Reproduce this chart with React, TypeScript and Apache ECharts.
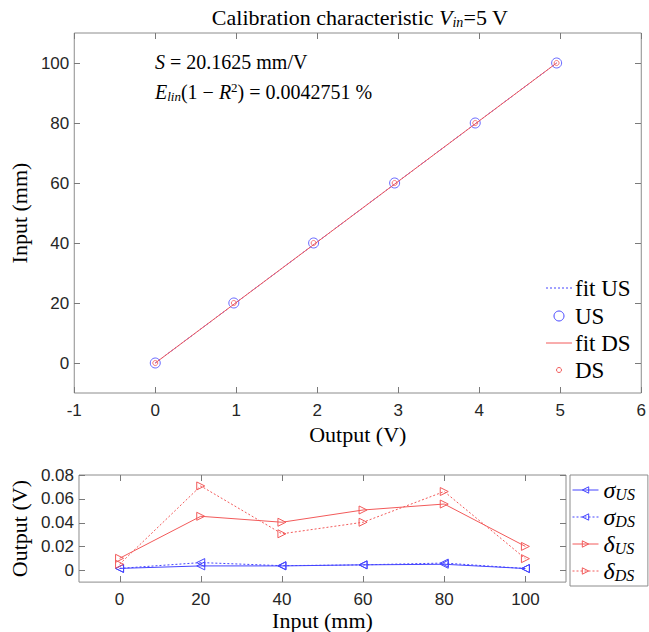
import React, { useEffect, useRef } from 'react';
import * as echarts from 'echarts';

// ---------- data ----------
const inputs = [0, 20, 40, 60, 80, 100];
const outputUS = [0, 0.97, 1.955, 2.955, 3.95, 4.955];
const outputDS = [0, 0.97, 1.955, 2.955, 3.95, 4.955];
const fitUSX = [0, 4.955];
const fitUSY = [0, 100];
const fitDSX = [0, 4.955];
const fitDSY = [0, 100];

const topXTicks = [-1, 0, 1, 2, 3, 4, 5, 6];
const topYTicks = [0, 20, 40, 60, 80, 100];
const botXTicks = [0, 20, 40, 60, 80, 100];
const botYTicks = [0, 0.02, 0.04, 0.06, 0.08];

const sigmaUS = [0.0015, 0.0036, 0.0036, 0.0045, 0.005, 0.0014];
const sigmaDS = [0.0015, 0.0064, 0.0038, 0.0045, 0.006, 0.0014];
const deltaUS = [0.01, 0.0453, 0.0403, 0.0506, 0.0556, 0.02];
const deltaDS = [0.005, 0.0708, 0.0306, 0.0403, 0.0661, 0.0097];

const seriesNames = ['sUS', 'sDS', 'dUS', 'dDS'];

// ---------- styles ----------
const BLUE = '#4444ff';
const RED = '#f25a5a';
const AXIS = '#8c8c8c';
const TICK = '#7a7a7a';
const LABEL = '#262626';
const SERIF = "'Liberation Serif', 'DejaVu Serif', serif";
const SANS = "'Liberation Sans', Arial, sans-serif";
const TICK_LEN = 6;

const pairs = (xs: number[], ys: number[]) => xs.map((x, i) => [x, ys[i]]);
const crisp = (v: number) => Math.round(v) + 0.5;

const AXIS_RANGES = [
  { x: [-1, 6], y: [-10, 110], xt: topXTicks, yt: topYTicks },
  { x: [-10, 110], y: [-0.01, 0.08], xt: botXTicks, yt: botYTicks },
];

function axisDef(gridIndex: number, min: number, max: number, ticks: number[], dir: 'x' | 'y', name: string, nameGap: number) {
  return {
    type: 'value',
    gridIndex,
    min,
    max,
    position: dir === 'x' ? 'bottom' : 'left',
    name,
    nameLocation: 'middle',
    nameGap,
    nameRotate: dir === 'y' ? 90 : 0,
    nameTextStyle: { fontFamily: SERIF, fontSize: 22, color: '#000' },
    axisLine: { show: false, onZero: false },
    splitLine: { show: false },
    axisTick: { show: false },
    axisLabel: {
      show: true,
      customValues: ticks,
      fontFamily: SANS,
      fontSize: 17,
      color: LABEL,
      margin: dir === 'x' ? 9 : 5,
      formatter: (v: number) => String(Math.round(v * 1000) / 1000),
    },
  };
}

export default function App() {
  const ref = useRef<HTMLDivElement>(null);

  useEffect(() => {
    if (!ref.current) return;
    const chart = echarts.init(ref.current, undefined, { renderer: 'svg' });

    const x0 = axisDef(0, -1, 6, topXTicks, 'x', 'Output (V)', 29);
    const y0 = axisDef(0, -10, 110, topYTicks, 'y', 'Input (mm)', 40);
    const x1 = axisDef(1, -10, 110, botXTicks, 'x', 'Input (mm)', 26);
    const y1 = axisDef(1, -0.01, 0.08, botYTicks, 'y', 'Output (V)', 40);

    const sub = { fontFamily: SERIF, fontStyle: 'italic', fontSize: 14, verticalAlign: 'bottom', lineHeight: 14 };

    const legendRich: any = {
      g: { fontFamily: SERIF, fontStyle: 'italic', fontSize: 24, lineHeight: 24, color: '#000' },
      s: { fontFamily: SERIF, fontStyle: 'italic', fontSize: 16, lineHeight: 15, verticalAlign: 'bottom', color: '#000' },
    };
    const legendText: Record<string, string> = {
      sUS: '{g|σ}{s|US}',
      sDS: '{g|σ}{s|DS}',
      dUS: '{g|δ}{s|US}',
      dDS: '{g|δ}{s|DS}',
    };
    const seriesColor: Record<string, string> = { sUS: BLUE, sDS: BLUE, dUS: RED, dDS: RED };
    const seriesDashed: Record<string, boolean> = { sUS: false, sDS: true, dUS: false, dDS: true };

    const botSeries = (name: string, ys: number[], rot: number) => ({
      name,
      type: 'line',
      xAxisIndex: 1,
      yAxisIndex: 1,
      data: pairs(inputs, ys),
      symbol: 'triangle',
      symbolSize: 8,
      symbolRotate: rot,
      showSymbol: true,
      lineStyle: { color: seriesColor[name], width: 1, type: seriesDashed[name] ? [2, 2] : 'solid' },
      itemStyle: { color: 'rgba(255,255,255,0)', borderColor: seriesColor[name], borderWidth: 1 },
      emphasis: { disabled: true },
      z: 3,
    });

    const graphicEls: any[] = [
      {
        type: 'text', x: 360, y: 17,
        style: {
          text: 'Calibration characteristic {i|V}{s|in}=5 V',
          fontFamily: SERIF, fontSize: 22, fill: '#000', align: 'center', verticalAlign: 'middle',
          lineHeight: 24,
          rich: {
            i: { fontFamily: SERIF, fontStyle: 'italic', fontSize: 22, lineHeight: 24 },
            s: { ...sub, fontSize: 14, lineHeight: 14 },
          },
        },
      },
      {
        type: 'text', x: 155, y: 62,
        style: {
          text: '{i|S} = 20.1625 mm/V',
          fontFamily: SERIF, fontSize: 20, fill: '#000', align: 'left', verticalAlign: 'middle', lineHeight: 22,
          rich: { i: { fontFamily: SERIF, fontStyle: 'italic', fontSize: 20, lineHeight: 22 } },
        },
      },
      {
        type: 'text', x: 155, y: 92,
        style: {
          text: '{i|E}{s|lin}(1 − {i|R}{p|2}) = 0.0042751 %',
          fontFamily: SERIF, fontSize: 20, fill: '#000', align: 'left', verticalAlign: 'middle', lineHeight: 22,
          rich: {
            i: { fontFamily: SERIF, fontStyle: 'italic', fontSize: 20, lineHeight: 22 },
            s: { ...sub, fontSize: 13, lineHeight: 13 },
            p: { fontFamily: SERIF, fontSize: 13, lineHeight: 13, verticalAlign: 'top' },
          },
        },
      },
      // top legend (no box)
      { type: 'line', shape: { x1: 546, y1: 288, x2: 572, y2: 288 }, style: { stroke: BLUE, lineWidth: 1, lineDash: [2, 2] } },
      { type: 'circle', shape: { cx: 559, cy: 316, r: 5 }, style: { stroke: BLUE, fill: 'none', lineWidth: 1 } },
      { type: 'line', shape: { x1: 546, y1: 343, x2: 572, y2: 343 }, style: { stroke: RED, lineWidth: 1 } },
      { type: 'circle', shape: { cx: 559, cy: 370, r: 2.5 }, style: { stroke: RED, fill: 'none', lineWidth: 1 } },
      { type: 'text', x: 575, y: 288, style: { text: 'fit US', fontFamily: SERIF, fontSize: 23, fill: '#000', verticalAlign: 'middle' } },
      { type: 'text', x: 575, y: 316, style: { text: 'US', fontFamily: SERIF, fontSize: 23, fill: '#000', verticalAlign: 'middle' } },
      { type: 'text', x: 575, y: 343, style: { text: 'fit DS', fontFamily: SERIF, fontSize: 23, fill: '#000', verticalAlign: 'middle' } },
      { type: 'text', x: 575, y: 370, style: { text: 'DS', fontFamily: SERIF, fontSize: 23, fill: '#000', verticalAlign: 'middle' } },
    ];

    const option: any = {
      animation: false,
      backgroundColor: '#fff',
      grid: [
        { left: 72, top: 33, width: 570, height: 360, show: true, borderColor: AXIS, borderWidth: 1, backgroundColor: 'transparent' },
        { left: 72, top: 475, width: 494, height: 109, show: true, borderColor: AXIS, borderWidth: 1, backgroundColor: 'transparent' },
      ],
      xAxis: [x0, x1],
      yAxis: [y0, y1],
      legend: {
        data: seriesNames.map((n) => ({
          name: n,
          itemStyle: { color: 'rgba(255,255,255,0)', borderColor: seriesColor[n], borderWidth: 1 },
          lineStyle: { color: seriesColor[n], width: 1, type: seriesDashed[n] ? [2, 2] : 'solid' },
        })),
        orient: 'vertical',
        left: 570,
        top: 475,
        padding: [3, 13, 3, 2],
        itemGap: 3,
        itemWidth: 26,
        itemHeight: 8,
        borderColor: AXIS,
        borderWidth: 1,
        backgroundColor: '#fff',
        selectedMode: false,
        formatter: (n: string) => legendText[n],
        textStyle: { rich: legendRich, lineHeight: 24 },
      },
      series: [
        {
          name: 'fit US', type: 'line', xAxisIndex: 0, yAxisIndex: 0,
          data: pairs(fitUSX, fitUSY), showSymbol: false, symbol: 'none',
          lineStyle: { color: BLUE, width: 1, type: [2, 2] }, z: 2,
        },
        {
          name: 'US', type: 'scatter', xAxisIndex: 0, yAxisIndex: 0,
          data: pairs(outputUS, inputs), symbol: 'circle', symbolSize: 10,
          itemStyle: { color: 'rgba(255,255,255,0)', borderColor: BLUE, borderWidth: 1 }, z: 3,
        },
        {
          name: 'fit DS', type: 'line', xAxisIndex: 0, yAxisIndex: 0,
          data: pairs(fitDSX, fitDSY), showSymbol: false, symbol: 'none',
          lineStyle: { color: RED, width: 1 }, z: 4,
        },
        {
          name: 'DS', type: 'scatter', xAxisIndex: 0, yAxisIndex: 0,
          data: pairs(outputDS, inputs), symbol: 'circle', symbolSize: 5,
          itemStyle: { color: 'rgba(255,255,255,0)', borderColor: RED, borderWidth: 1 }, z: 5,
        },
        botSeries('sUS', sigmaUS, 90),
        botSeries('sDS', sigmaDS, 90),
        botSeries('dUS', deltaUS, -90),
        botSeries('dDS', deltaDS, -90),
      ],
      graphic: { elements: graphicEls },
    };

    chart.setOption(option);

    // inside tick marks on all four sides, placed through the axes' own scales
    const tickEls: any[] = [];
    const st = { stroke: TICK, lineWidth: 1 };
    AXIS_RANGES.forEach((r, gi) => {
      const left = Math.round(chart.convertToPixel({ xAxisIndex: gi }, r.x[0]) as number);
      const right = Math.round(chart.convertToPixel({ xAxisIndex: gi }, r.x[1]) as number);
      const bottom = Math.round(chart.convertToPixel({ yAxisIndex: gi }, r.y[0]) as number);
      const top = Math.round(chart.convertToPixel({ yAxisIndex: gi }, r.y[1]) as number);
      r.xt.forEach((v) => {
        const x = crisp(chart.convertToPixel({ xAxisIndex: gi }, v) as number);
        tickEls.push({ type: 'line', z: 100, shape: { x1: x, y1: bottom, x2: x, y2: bottom - TICK_LEN }, style: st });
        tickEls.push({ type: 'line', z: 100, shape: { x1: x, y1: top, x2: x, y2: top + TICK_LEN }, style: st });
      });
      r.yt.forEach((v) => {
        const y = crisp(chart.convertToPixel({ yAxisIndex: gi }, v) as number);
        tickEls.push({ type: 'line', z: 100, shape: { x1: left, y1: y, x2: left + TICK_LEN, y2: y }, style: st });
        tickEls.push({ type: 'line', z: 100, shape: { x1: right, y1: y, x2: right - TICK_LEN, y2: y }, style: st });
      });
    });
    chart.setOption({ graphic: { elements: [...graphicEls, ...tickEls] } });

    return () => chart.dispose();
  }, []);

  return <div ref={ref} style={{ position: 'absolute', left: 0, top: 0, width: 649, height: 632 }} />;
}
